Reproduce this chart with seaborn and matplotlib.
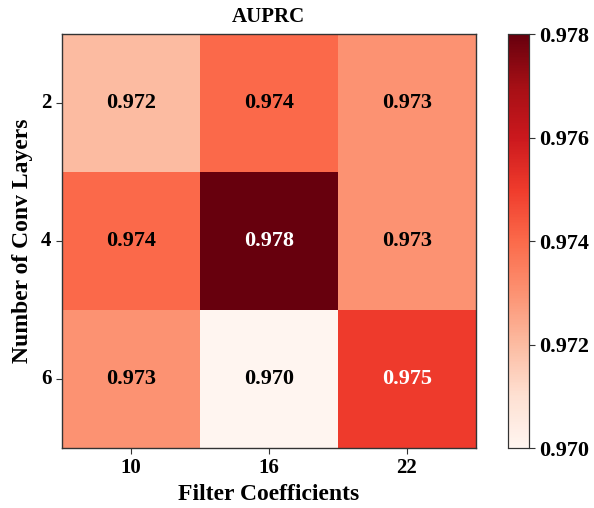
import numpy as np
import pandas as pd
import matplotlib
matplotlib.use('Agg')
import matplotlib.pyplot as plt
import seaborn as sns

# AUPRC grid: rows = conv layers, cols = filter coefficients
conv_layers = ['2', '4', '6']
filter_coefs = ['10', '16', '22']
auprc_2 = [0.972, 0.974, 0.973]
auprc_4 = [0.974, 0.978, 0.973]
auprc_6 = [0.973, 0.970, 0.975]

df = pd.DataFrame([auprc_2, auprc_4, auprc_6], index=conv_layers, columns=filter_coefs)

sns.set_style('white')
plt.rcParams['font.family'] = ['Liberation Serif', 'DejaVu Serif']
plt.rcParams['font.weight'] = 'bold'
plt.rcParams['text.color'] = 'black'
plt.rcParams['axes.labelcolor'] = 'black'
plt.rcParams['xtick.color'] = 'black'
plt.rcParams['ytick.color'] = 'black'

fig = plt.figure(figsize=(5.94, 5.08), dpi=100)
ax = fig.add_axes([0.104, 0.118, 0.697, 0.815])
cax = fig.add_axes([0.855, 0.118, 0.035, 0.815])

sns.heatmap(df, ax=ax, cbar_ax=cax, cmap='Reds', vmin=0.970, vmax=0.978,
            annot=True, fmt='.3f',
            annot_kws={'fontsize': 16, 'fontweight': 'bold'})

# white text on the dark cells
for t in ax.texts:
    v = float(t.get_text())
    t.set_color('white' if v >= 0.975 else 'black')

for s in ax.spines.values():
    s.set_visible(True)
    s.set_color('#333333')
    s.set_linewidth(1.0)

ax.set_title('AUPRC', fontsize=15, fontweight='bold', pad=9, color='black')
ax.set_xlabel('Filter Coefficients', fontsize=17, fontweight='bold', labelpad=4, color='black')
ax.set_ylabel('Number of Conv Layers', fontsize=17, fontweight='bold', labelpad=6, color='black')
ax.tick_params(axis='both', length=4, width=0.8, labelsize=15, color='#333333',
               labelcolor='black', bottom=True, left=True)
ax.set_yticklabels(conv_layers, rotation=0, fontweight='bold')
ax.set_xticklabels(filter_coefs, fontweight='bold')

cax.set_yticks([0.970, 0.972, 0.974, 0.976, 0.978])
cax.set_yticklabels(['0.970', '0.972', '0.974', '0.976', '0.978'], fontsize=16, fontweight='bold')
cax.tick_params(length=4, width=0.8, color='#333333', labelcolor='black', right=True)
for s in cax.spines.values():
    s.set_visible(True)
    s.set_color('#333333')
    s.set_linewidth(0.8)

fig.savefig('out.png', dpi=100)
